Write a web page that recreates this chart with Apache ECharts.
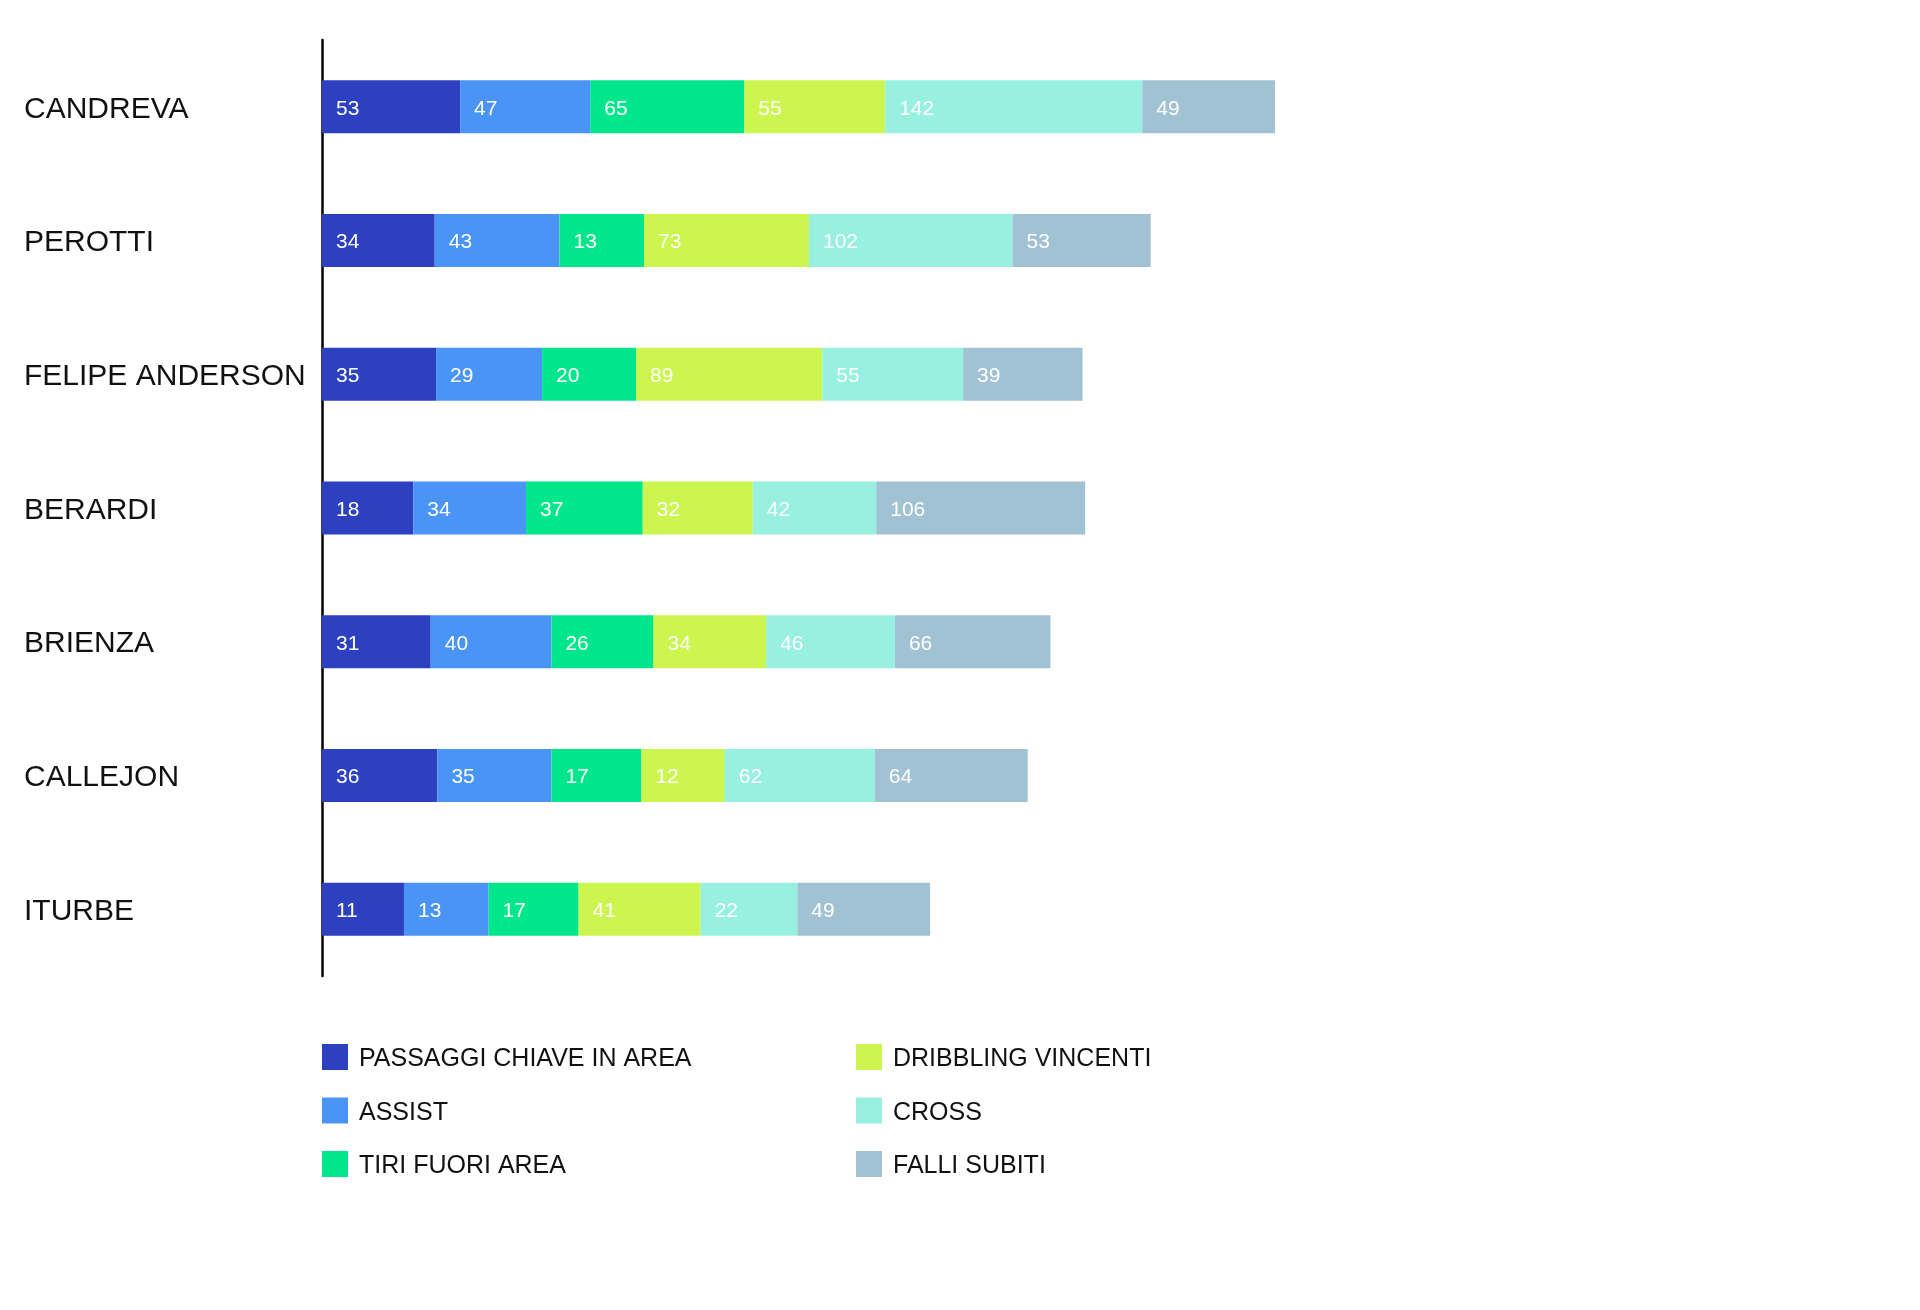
<!DOCTYPE html>
<html>
<head>
<meta charset="utf-8">
<script src="https://cdn.jsdelivr.net/npm/echarts@6/dist/echarts.min.js"></script>
<style>
  html, body { margin: 0; padding: 0; background: #ffffff; }
  #chart { width: 1920px; height: 1310px; }
</style>
</head>
<body>
<div id="chart"></div>
<script>
// ---- Data ----
const players = ['CANDREVA', 'PEROTTI', 'FELIPE ANDERSON', 'BERARDI', 'BRIENZA', 'CALLEJON', 'ITURBE'];
const seriesNames = ['PASSAGGI CHIAVE IN AREA', 'ASSIST', 'TIRI FUORI AREA', 'DRIBBLING VINCENTI', 'CROSS', 'FALLI SUBITI'];
const passaggiChiave = [53, 34, 35, 18, 31, 36, 11];
const assist         = [47, 43, 29, 34, 40, 35, 13];
const tiriFuoriArea  = [65, 13, 20, 37, 26, 17, 17];
const dribbling      = [55, 73, 89, 32, 34, 12, 41];
const cross          = [142, 102, 55, 42, 46, 62, 22];
const falliSubiti    = [49, 53, 39, 106, 66, 64, 49];

// ---- Styling ----
const FONT = "'Liberation Sans', Arial, Helvetica, sans-serif";
const colors = ['#2c40c0', '#4a94f6', '#00e68a', '#ccf550', '#98f0e0', '#a0c2d2'];
const SEGMENT_MIN = 50.3; // reference draws every segment with a constant minimum width
const valuesList = [passaggiChiave, assist, tiriFuoriArea, dribbling, cross, falliSubiti];

const chart = echarts.init(document.getElementById('chart'));

const series = seriesNames.map((name, i) => ({
  name: name,
  type: 'bar',
  stack: 'total',
  barWidth: 53,
  itemStyle: { color: colors[i] },
  label: {
    show: true,
    position: 'insideLeft',
    distance: 14,
    offset: [0, 2],
    color: '#ffffff',
    fontSize: 21,
    fontFamily: FONT,
    formatter: (p) => String(valuesList[i][p.dataIndex])
  },
  emphasis: { disabled: true },
  data: valuesList[i].map(v => v + SEGMENT_MIN)
}));

const legendText = {
  fontSize: 25,
  color: '#111111',
  fontFamily: FONT,
  rich: {
    t: { fontSize: 25, color: '#111111', fontFamily: FONT, padding: [5, 0, 0, 6] }
  }
};

chart.setOption({
  backgroundColor: '#ffffff',
  animation: false,
  grid: { left: 322, top: 40, height: 936, width: 1537.6, containLabel: false },
  legend: [
    {
      data: seriesNames.slice(0, 3),
      orient: 'vertical',
      left: 317, top: 1039,
      icon: 'rect', itemWidth: 26, itemHeight: 26, itemGap: 25.5,
      formatter: (n) => '{t|' + n + '}',
      textStyle: legendText,
      selectedMode: false
    },
    {
      data: seriesNames.slice(3),
      orient: 'vertical',
      left: 851, top: 1039,
      icon: 'rect', itemWidth: 26, itemHeight: 26, itemGap: 25.5,
      formatter: (n) => '{t|' + n + '}',
      textStyle: legendText,
      selectedMode: false
    }
  ],
  xAxis: {
    type: 'value',
    min: 0,
    max: 1150,
    show: false,
    splitLine: { show: false }
  },
  yAxis: {
    type: 'category',
    inverse: true,
    data: players,
    axisLine: { show: true, lineStyle: { color: '#000000', width: 2.5 } },
    axisTick: { show: false },
    axisLabel: {
      align: 'left',
      margin: 298,
      formatter: (n) => '{c|' + n + '}',
      rich: {
        c: { fontSize: 30, color: '#111111', fontFamily: FONT, padding: [5, 0, 0, 0] }
      }
    }
  },
  series: series
});
</script>
</body>
</html>
